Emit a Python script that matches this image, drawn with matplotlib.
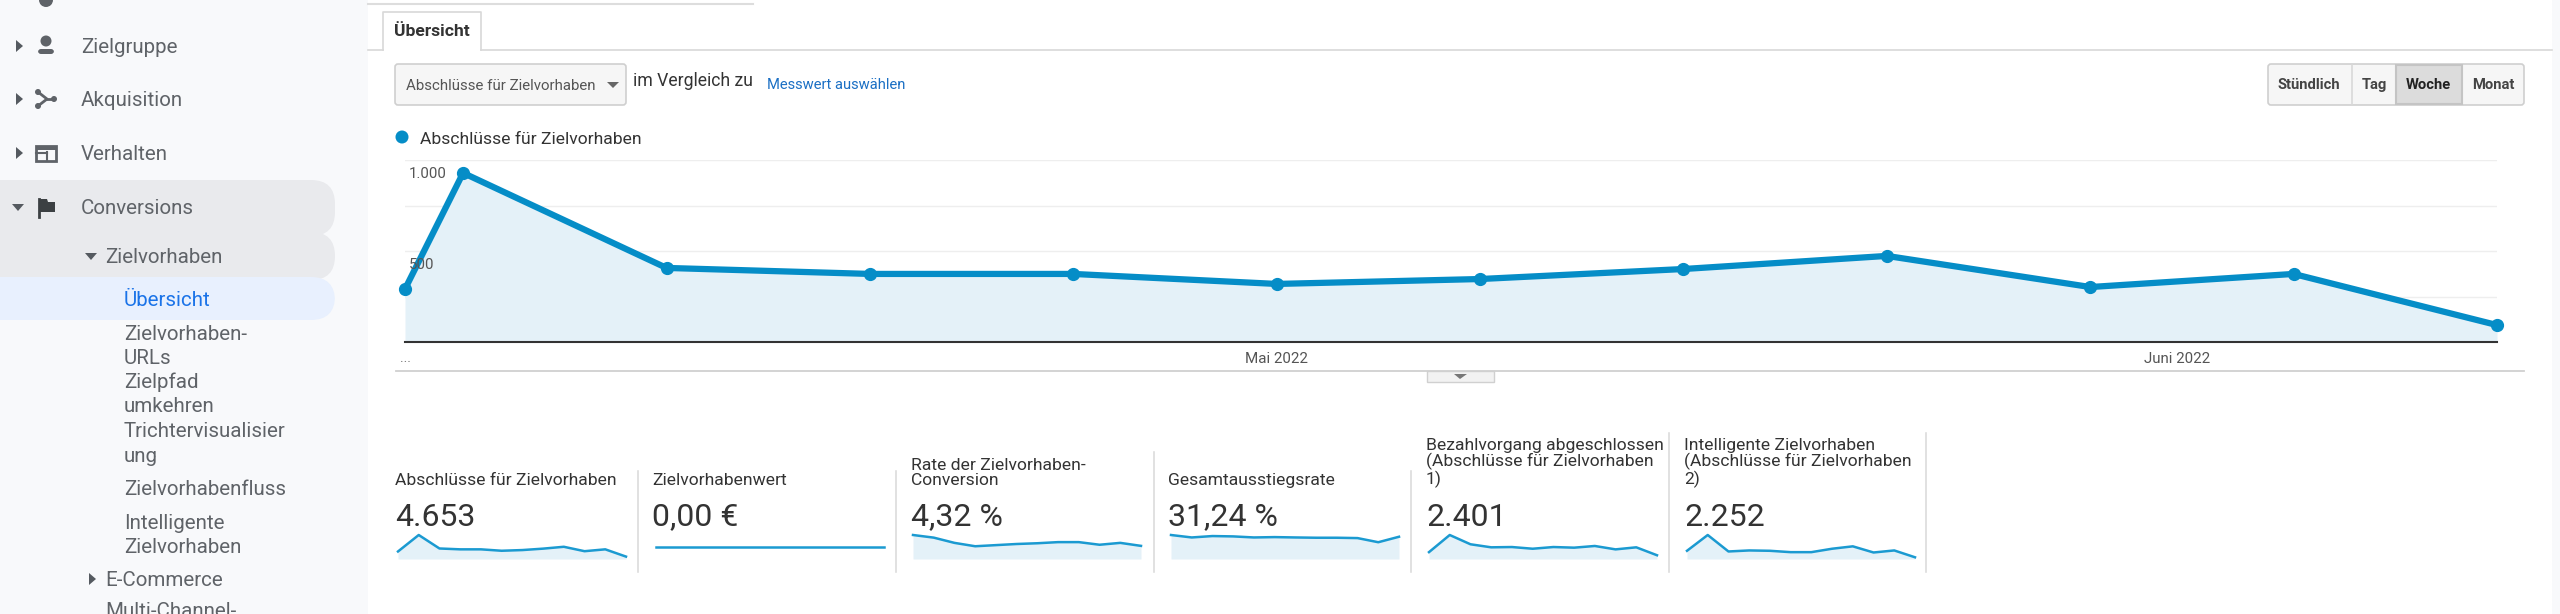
#!/usr/bin/env python3
import matplotlib
matplotlib.use('Agg')
import matplotlib.pyplot as plt
import matplotlib.dates as mdates
from matplotlib.patches import Rectangle, FancyBboxPatch, Polygon, Circle
from datetime import date

plt.rcParams['font.family'] = ['Roboto', 'DejaVu Sans']

W, H = 2560, 614
BLUE = '#058dc7'
FILL = '#e4f1f8'
GREY = '#5f6368'
DARK = '#333333'

# data
week_dates = [date(2022, 4, 1), date(2022, 4, 3), date(2022, 4, 10), date(2022, 4, 17),
              date(2022, 4, 24), date(2022, 5, 1), date(2022, 5, 8), date(2022, 5, 15),
              date(2022, 5, 22), date(2022, 5, 29), date(2022, 6, 5), date(2022, 6, 12)]
goal_completions = [291, 929, 407, 374, 374, 319, 346, 401, 473, 302, 374, 93]
goal_value = [0, 0, 0, 0, 0, 0, 0, 0, 0, 0, 0, 0]
conversion_rate = [6.4, 5.7, 4.3, 3.4, 3.7, 4.0, 4.2, 4.5, 4.5, 3.8, 4.3, 3.5]
exit_rate = [34.2, 30.7, 32.7, 32.2, 30.7, 31.2, 30.7, 30.3, 30.3, 29.8, 23.9, 31.7]
checkout_done = [117, 409, 251, 199, 204, 175, 204, 193, 222, 164, 199, 64]
smart_goals = [168, 491, 154, 175, 168, 140, 140, 210, 259, 133, 175, 35]

grid_values = [0, 250, 500, 750, 1000]
y_labels = {1000: '1.000', 500: '500'}
x_tick_dates = [date(2022, 5, 1), date(2022, 6, 1)]
x_tick_labels = ['Mai 2022', 'Juni 2022']

tile_titles = ['Abschlüsse für Zielvorhaben', 'Zielvorhabenwert',
               'Rate der Zielvorhaben-\nConversion', 'Gesamtausstiegsrate',
               'Bezahlvorgang abgeschlossen\n(Abschlüsse für Zielvorhaben\n1)',
               'Intelligente Zielvorhaben\n(Abschlüsse für Zielvorhaben\n2)']
tile_values = ['4.653', '0,00 €', '4,32 %', '31,24 %', '2.401', '2.252']
tile_series = [goal_completions, goal_value, conversion_rate, exit_rate, checkout_done, smart_goals]

fig = plt.figure(figsize=(W / 100, H / 100), dpi=100, facecolor='white')


def px_axes(x0, y0, x1, y1, **kw):
    return fig.add_axes([x0 / W, 1 - y1 / H, (x1 - x0) / W, (y1 - y0) / H], **kw)


# page chrome in pixel coordinates
ui = fig.add_axes([0, 0, 1, 1], zorder=0)
ui.set_xlim(0, W)
ui.set_ylim(H, 0)
ui.axis('off')

ui.add_patch(Rectangle((0, 0), 368, H, fc='#f8f9fb', ec='none'))
ui.add_patch(Rectangle((2552, 0), 8, H, fc='#f8f9fb', ec='none'))


def pill(y0, y1, color):
    ui.add_patch(FancyBboxPatch((-60, y0), 395, y1 - y0, boxstyle='round,pad=0,rounding_size=24',
                                fc=color, ec='none'))


pill(180, 236, '#e9eaed')
pill(232, 280, '#e9eaed')
pill(277, 320, '#e8f0fe')


def arrow(x, y, down=False, s=4):
    if down:
        pts = [(x - s - 2, y - s + 1), (x + s + 2, y - s + 1), (x, y + s)]
    else:
        pts = [(x - s + 1, y - s - 2), (x - s + 1, y + s + 2), (x + s, y)]
    ui.add_patch(Polygon(pts, fc='#555a60', ec='none'))


nav = [(81, 46, 'Zielgruppe'), (81, 99, 'Akquisition'), (81, 153, 'Verhalten'), (81, 207, 'Conversions'),
       (105, 256, 'Zielvorhaben'), (105, 579, 'E-Commerce'), (105, 610, 'Multi-Channel-'),
       (124, 333, 'Zielvorhaben-'), (124, 357, 'URLs'), (124, 381, 'Zielpfad'), (124, 405, 'umkehren'),
       (124, 430, 'Trichtervisualisier'), (124, 455, 'ung'), (124, 488, 'Zielvorhabenfluss'),
       (124, 522, 'Intelligente'), (124, 546, 'Zielvorhaben')]
for x, y, s in nav:
    ui.text(x, y + 1.5, s, fontsize=14.8, color=GREY, va='center', ha='left')
ui.text(124, 300.5, 'Übersicht', fontsize=14.8, color='#1a73e8', va='center', ha='left')

arrow(19, 46)
arrow(19, 99)
arrow(19, 153)
arrow(18, 207, down=True)
arrow(91, 256, down=True)
arrow(92, 579)

# sidebar icons
ui.add_patch(Circle((46, 0), 7, fc=GREY, ec='none'))
ui.add_patch(Circle((46, 41), 5.5, fc=GREY, ec='none'))
ui.add_patch(FancyBboxPatch((38, 49), 16, 5, boxstyle='round,pad=0,rounding_size=3', fc=GREY, ec='none'))
ui.plot([38, 47, 38], [92, 99, 106], color=GREY, lw=2)
ui.plot([47, 54], [99, 99], color=GREY, lw=2)
for cx, cy in [(38, 92), (38, 106), (54, 99)]:
    ui.add_patch(Circle((cx, cy), 3, fc=GREY, ec='none'))
ui.add_patch(Rectangle((36, 146), 20, 15, fc='none', ec=GREY, lw=2))
ui.add_patch(Rectangle((36, 146), 20, 4, fc=GREY, ec='none'))
ui.plot([47, 47], [152, 161], color=GREY, lw=1.5)
ui.plot([36, 47], [153, 153], color=GREY, lw=1.5)
ui.plot([39, 39], [199, 217], color='#3c4043', lw=2)
ui.add_patch(Polygon([(39, 199), (47, 199), (48, 202), (55, 202), (55, 212), (39, 212)], fc='#3c4043', ec='none'))

# tab strip
ui.plot([368, 753], [4, 4], color='#dddddd', lw=1.5)
ui.plot([368, 383], [50, 50], color='#d8d8d8', lw=1.2)
ui.plot([481, 2552], [50, 50], color='#d8d8d8', lw=1.2)
ui.plot([383, 383, 481, 481], [50, 12, 12, 50], color='#d8d8d8', lw=1.2)
ui.text(394, 31, 'Übersicht', fontsize=12.6, fontweight='bold', color=DARK, va='center', ha='left')

# metric selector
ui.add_patch(FancyBboxPatch((395, 64), 231, 41, boxstyle='round,pad=0,rounding_size=3',
                            fc='#f6f6f6', ec='#cfcfcf', lw=1.2))
ui.text(406, 86, 'Abschlüsse für Zielvorhaben', fontsize=10.8, color='#555555', va='center', ha='left')
ui.add_patch(Polygon([(607, 82), (619, 82), (613, 88)], fc='#666666', ec='none'))
ui.text(633, 81, 'im Vergleich zu', fontsize=12.7, color=DARK, va='center', ha='left')
ui.text(767, 85, 'Messwert auswählen', fontsize=10.6, color='#1a6fc4', va='center', ha='left')

# time buttons
ui.add_patch(FancyBboxPatch((2268, 64), 256, 41, boxstyle='round,pad=0,rounding_size=3',
                            fc='#f6f6f6', ec='#cfcfcf', lw=1.2))
ui.add_patch(Rectangle((2396, 65), 66, 39, fc='#dcdcdc', ec='#c4c4c4', lw=1.5))
ui.plot([2352, 2352], [64, 105], color='#d8d8d8', lw=1.2)
for cx, s, c in [(2309, 'Stündlich', '#444444'), (2374, 'Tag', '#444444'),
                 (2428, 'Woche', '#222222'), (2493, 'Monat', '#444444')]:
    ui.text(cx, 85, s, fontsize=10.6, fontweight='bold', color=c, va='center', ha='center')

# legend and rule under the chart
ui.add_patch(Circle((402, 137), 6.5, fc=BLUE, ec='none'))
ui.text(420, 139, 'Abschlüsse für Zielvorhaben', fontsize=12.6, color=DARK, va='center', ha='left')
ui.text(405, 358, '...', fontsize=10, color='#777777', va='center', ha='center')
ui.plot([396, 2524], [371, 371], color='#d0d0d0', lw=1.3)
ui.add_patch(Rectangle((1427, 371), 67, 11, fc='#f2f2f2', ec='#d0d0d0', lw=1))
ui.add_patch(Polygon([(1454, 374), (1467, 374), (1460, 379)], fc='#777777', ec='none'))

# main chart
ax = px_axes(405, 160, 2497, 342, zorder=2)
ax.patch.set_alpha(0)
dates = mdates.date2num(week_dates)
ax.fill_between(dates, goal_completions, 0, color=FILL, lw=0, zorder=1)
ax.plot(dates, goal_completions, color=BLUE, lw=4.5, marker='o', ms=8.5, clip_on=False, zorder=3)
ax.set_xlim(dates[0], dates[-1])
ax.set_ylim(0, 1000)
ax.set_yticks(grid_values)
ax.set_yticklabels([])
ax.grid(axis='y', color='#eeeeee', lw=1)
ax.set_axisbelow(True)
ax.set_xticks(mdates.date2num(x_tick_dates))
ax.set_xticklabels(x_tick_labels, fontsize=10.9, color='#555555')
ax.tick_params(axis='both', length=0)
ax.tick_params(axis='x', pad=7)
for side in ['top', 'left', 'right']:
    ax.spines[side].set_visible(False)
ax.spines['bottom'].set_color('#333333')
ax.spines['bottom'].set_linewidth(1.5)
for val, lab in y_labels.items():
    ax.annotate(lab, xy=(0, val), xycoords=ax.get_yaxis_transform(), xytext=(3, -5), textcoords='offset points',
                fontsize=10.8, color='#555555', va='top', ha='left', zorder=4)

# scorecards
title_x = [395, 652, 911, 1168, 1426, 1684]
spark_x = [398, 656, 913, 1171, 1429, 1687]
for i in range(6):
    ui.text(title_x[i], 488, tile_titles[i], fontsize=12.6, color=DARK, va='bottom', ha='left', linespacing=1.03)
    ui.text(title_x[i], 517, tile_values[i], fontsize=23, color=DARK, va='center', ha='left')
    sp = px_axes(spark_x[i], 535, spark_x[i] + 228, 559, zorder=2)
    sp.axis('off')
    vals = tile_series[i]
    steps = list(range(len(vals)))  # sparklines are evenly spaced, not by date
    if max(vals) > 0:
        sp.fill_between(steps, vals, 0, color=FILL, lw=0)
        sp.set_ylim(0, max(vals))
    else:
        sp.set_ylim(-1, 1)
    sp.plot(steps, vals, color='#1b9ad1', lw=1.8, clip_on=False)
    sp.set_xlim(steps[0], steps[-1])

divider_x = [638, 896, 1154, 1411, 1669, 1926]
divider_top = [471, 471, 452, 471, 433, 433]
for x, top in zip(divider_x, divider_top):
    ui.plot([x, x], [top, 572], color='#d8d8d8', lw=1.1)

fig.savefig('out.png', dpi=100)
